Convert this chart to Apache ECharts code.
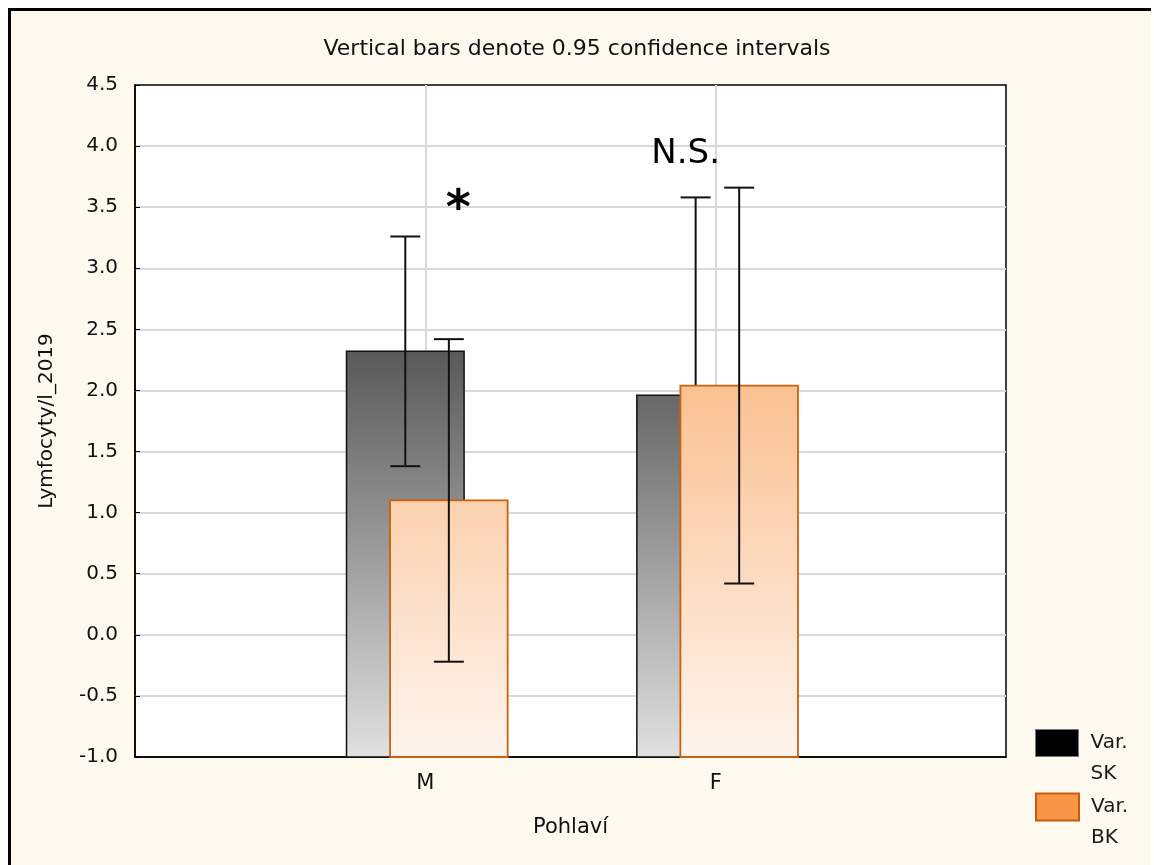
<!DOCTYPE html>
<html>
<head>
<meta charset="utf-8">
<script src="https://cdn.jsdelivr.net/npm/echarts@6/dist/echarts.min.js"></script>
<style>
  html, body { margin: 0; padding: 0; background: #ffffff; }
  #chart { width: 1154px; height: 865px; }
</style>
</head>
<body>
<div id="chart"></div>
<script>
// ---- data ----
const categories = ['M', 'F'];
const seriesNames = ['Var. SK', 'Var. BK'];
const skMean = [2.32, 1.96];
const skLow  = [1.38, 0.34];
const skHigh = [3.26, 3.58];
const bkMean = [1.10, 2.04];
const bkLow  = [-0.22, 0.42];
const bkHigh = [2.42, 3.66];
const yTicks = { min: -1.0, max: 4.5, step: 0.5 };
const annotations = [
  { cat: 'M', y: 3.475, text: '*' },
  { cat: 'F', y: 3.93, text: 'N.S.' }
];

// ---- build ----
const xData = [''].concat(categories, ['']);
function rows(mean, low, high) {
  return categories.map((c, i) => [i + 1, mean[i], low[i], high[i]]);
}
const FONT = '"DejaVu Sans", Verdana, sans-serif';

function makeRender(offsetFrac, stops, stroke, strokeW) {
  return function (params, api) {
    const x = api.value(0);
    const mean = api.value(1), low = api.value(2), high = api.value(3);
    const band = api.size([1, 0])[0];
    const w = band * 0.405;
    const base = api.coord([x, yTicks.min]);
    const topAll = api.coord([x, yTicks.max]);
    const top = api.coord([x, mean]);
    const cx = base[0] + band * offsetFrac;
    const yHi = api.coord([x, high])[1];
    const yLo = api.coord([x, low])[1];
    const cap = 15;
    const errStyle = { stroke: '#111', lineWidth: 2 };
    return {
      type: 'group',
      children: [
        {
          type: 'rect',
          shape: { x: cx - w / 2, y: top[1], width: w, height: base[1] - top[1] },
          style: {
            fill: { type: 'linear', x: 0, y: topAll[1], x2: 0, y2: base[1], global: true, colorStops: stops },
            stroke: stroke, lineWidth: strokeW
          }
        },
        { type: 'line', shape: { x1: cx, y1: yHi, x2: cx, y2: yLo }, style: errStyle },
        { type: 'line', shape: { x1: cx - cap, y1: yHi, x2: cx + cap, y2: yHi }, style: errStyle },
        { type: 'line', shape: { x1: cx - cap, y1: yLo, x2: cx + cap, y2: yLo }, style: errStyle }
      ]
    };
  };
}

const chart = echarts.init(document.getElementById('chart'), null, { renderer: 'canvas' });

const legendBase = {
  orient: 'vertical', padding: 0, itemWidth: 43, itemHeight: 27, left: 1035,
  icon: 'rect',
  formatter: n => '{t| }\n{t|' + n.split(' ')[0] + '}\n{t|' + n.split(' ')[1] + '}',
  textStyle: {
    fontFamily: FONT, fontSize: 20, color: '#1a1a1a',
    rich: { t: { fontFamily: FONT, fontSize: 20, color: '#1a1a1a', lineHeight: 31, padding: [0, 0, 0, 7] } }
  }
};

const option = {
  backgroundColor: '#ffffff',
  animation: false,
  graphic: [
    { type: 'rect', z: -100, shape: { x: 9, y: 9, width: 1142, height: 856 }, style: { fill: '#fef9ee' } },
    { type: 'line', z: -99, shape: { x1: 8, y1: 9.5, x2: 1151, y2: 9.5 }, style: { stroke: '#000', lineWidth: 3 } },
    { type: 'line', z: -99, shape: { x1: 9.5, y1: 8, x2: 9.5, y2: 865 }, style: { stroke: '#000', lineWidth: 3 } }
  ],
  title: {
    text: 'Vertical bars denote 0.95 confidence intervals',
    left: 'center', top: 33,
    textStyle: { fontFamily: FONT, fontSize: 22, fontWeight: 'normal', color: '#111' }
  },
  legend: [
    Object.assign({}, legendBase, {
      top: 702,
      data: [{ name: seriesNames[0], itemStyle: { color: '#000000', borderColor: '#777', borderWidth: 1 } }]
    }),
    Object.assign({}, legendBase, {
      top: 766,
      data: [{ name: seriesNames[1], itemStyle: { color: '#f79646', borderColor: '#c55a11', borderWidth: 2 } }]
    })
  ],
  grid: {
    left: 135, right: 148, top: 85, bottom: 108,
    show: true, backgroundColor: '#ffffff', borderColor: '#000', borderWidth: 1.5
  },
  xAxis: {
    type: 'category', data: xData, boundaryGap: false,
    name: 'Pohlaví', nameLocation: 'middle', nameGap: 60,
    nameTextStyle: { fontFamily: FONT, fontSize: 21, color: '#111' },
    axisLine: { onZero: false, lineStyle: { color: '#000', width: 1.5 } },
    axisTick: { inside: true, length: 5, interval: (i) => i === 1 || i === 2, lineStyle: { color: '#000' } },
    axisLabel: { interval: 0, margin: 16, fontFamily: FONT, fontSize: 21, color: '#111' },
    splitLine: { show: true, interval: (i) => i === 1 || i === 2, lineStyle: { color: '#d9d9d9', width: 2 } }
  },
  yAxis: {
    type: 'value', min: yTicks.min, max: yTicks.max, interval: yTicks.step,
    name: 'Lymfocyty/l_2019', nameLocation: 'middle', nameGap: 78,
    nameTextStyle: { fontFamily: FONT, fontSize: 20, color: '#111' },
    axisLine: { show: true, onZero: false, lineStyle: { color: '#000', width: 1.5 } },
    axisTick: { show: true, inside: true, length: 5, lineStyle: { color: '#000' } },
    axisLabel: { margin: 17, fontFamily: FONT, fontSize: 20, color: '#111', formatter: v => v.toFixed(1) },
    splitLine: { show: true, showMinLine: false, showMaxLine: false, lineStyle: { color: '#d9d9d9', width: 2 } }
  },
  series: [
    {
      name: seriesNames[0], type: 'custom', itemStyle: { color: '#000' },
      renderItem: makeRender(-0.069, [{ offset: 0, color: '#000000' }, { offset: 1, color: '#e0e0e0' }], '#111', 1.5),
      data: rows(skMean, skLow, skHigh), encode: { x: 0, y: [1, 2, 3] }, z: 2
    },
    {
      name: seriesNames[1], type: 'custom', itemStyle: { color: '#f79646' },
      renderItem: makeRender(0.081, [{ offset: 0, color: '#f79646' }, { offset: 1, color: '#fef5ee' }], '#c8620f', 1.8),
      data: rows(bkMean, bkLow, bkHigh), encode: { x: 0, y: [1, 2, 3] }, z: 3
    },
    {
      type: 'scatter', symbolSize: 0, silent: true, z: 5,
      data: annotations.slice(0, 1).map(a => [categories.indexOf(a.cat) + 1, a.y]),
      label: { show: true, position: 'inside', offset: [33, 0], formatter: annotations[0].text,
               fontFamily: FONT, fontSize: 48, fontWeight: 'bold', color: '#000',
               textBorderWidth: 0, opacity: 1 }
    },
    {
      type: 'scatter', symbolSize: 0, silent: true, z: 5,
      data: annotations.slice(1, 2).map(a => [categories.indexOf(a.cat) + 1, a.y]),
      label: { show: true, position: 'inside', offset: [-30, 0], formatter: annotations[1].text,
               fontFamily: FONT, fontSize: 34, color: '#000', textBorderWidth: 0, opacity: 1 }
    }
  ]
};
chart.setOption(option);
</script>
</body>
</html>
